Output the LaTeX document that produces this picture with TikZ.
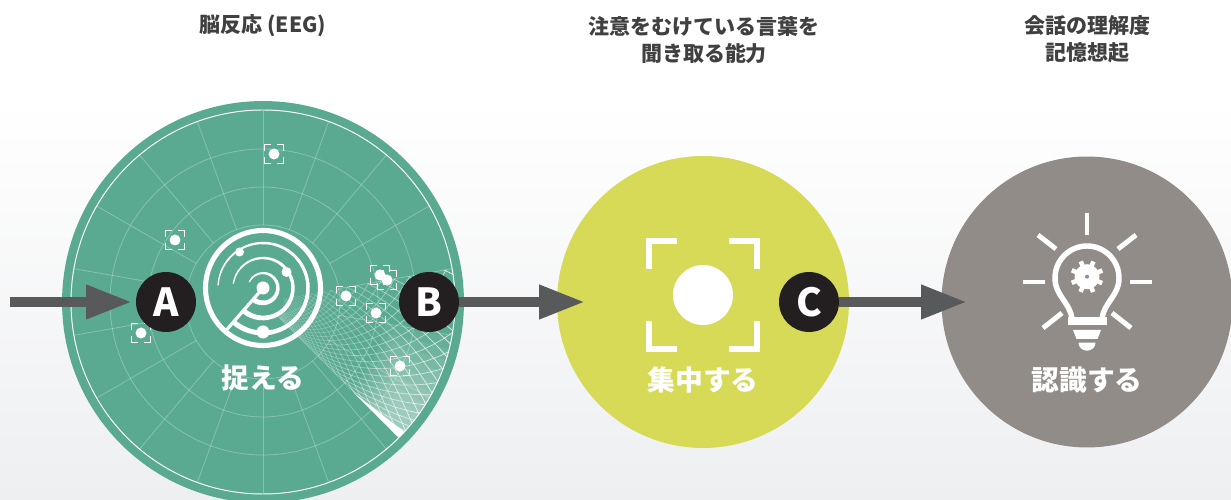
\documentclass[tikz,border=0pt]{standalone}
\usepackage{fontspec}
\setmainfont{Noto Sans CJK JP}
\usetikzlibrary{arrows.meta}
\definecolor{radargreen}{HTML}{5AAA91}
\definecolor{focusyellow}{HTML}{D6DA56}
\definecolor{bulbgray}{HTML}{918C88}
\definecolor{badgeblack}{HTML}{231F20}
\definecolor{arrowgray}{HTML}{58595B}
\definecolor{paperlow}{HTML}{EEEFF1}
\tikzset{
    disc/.style={circle,inner sep=0pt,outer sep=0pt},
    badge/.style={disc,fill=badgeblack,text=white,minimum size=1.2cm,font=\bfseries\fontsize{22}{22}\selectfont},
    heading/.style={align=center,font=\bfseries\fontsize{11.95}{15.4}\selectfont,text=black!75},
    disclabel/.style={text=white,font=\bfseries\fontsize{15.8}{18}\selectfont},
    flow/.style={draw=arrowgray,line width=.2cm,-{Triangle[length=.92cm,width=.64cm]}},
    gridline/.style={draw=white,opacity=.28,line width=.45pt},
    iconline/.style={draw=white,line width=2.9pt},
    rayline/.style={draw=white,line width=2.8pt},
}
\newcommand{\targetmark}[2]{%
    \fill[white] (#1,#2) circle (5.5);
    \foreach \sx/\sy in {1/1,-1/1,-1/-1,1/-1}
        \draw[white,line width=.7pt] ({#1+\sx*3},{#2+\sy*9.5})--({#1+\sx*9.5},{#2+\sy*9.5})--({#1+\sx*9.5},{#2+\sy*3});
}
\newcommand{\taperarc}[2]{%
    \foreach \k in {0,...,17}{
        \pgfmathsetmacro{\wd}{2.9-.125*\k}
        \draw[white,line width=\wd pt] ({229+(#2-229)*\k/18}:#1) arc ({229+(#2-229)*\k/18}:{229+(#2-229)*(\k+1.1)/18}:#1);
    }
}
\begin{document}
\begin{tikzpicture}[x=.02cm,y=.02cm,>=latex]
    \clip (0,0) rectangle (1231,500);
    \shade[top color=white,bottom color=paperlow] (0,0) rectangle (1231,400);
    \fill[white] (0,400) rectangle (1231,500);
    \node[heading] (eegText) at (263,474) {脳反応 (EEG)};
    \node[heading] (listenText) at (704,460) {注意をむけている言葉を\\聞き取る能力};
    \node[heading] (recallText) at (1087,461) {会話の理解度\\記憶想起};
    \node[disc,fill=radargreen,minimum size=8.04cm] (radarDisc) at (263,198) {};
    \node[disc,fill=focusyellow,minimum size=5.84cm] (focusDisc) at (703,198) {};
    \node[disc,fill=bulbgray,minimum size=5.82cm] (bulbDisc) at (1087,198) {};
\begin{scope}[shift={(263,198)}]
    \foreach \r in {77,115,153}
        \draw[gridline] (0,0) circle (\r);
    \foreach \a in {10,30,...,350}
        \draw[gridline] (\a:77)--(\a:192);
    \begin{scope}
        \clip (0,0)--(-45:192) arc (-45:10:192)--cycle;
        \foreach \k in {1,...,8}{
            \pgfmathsetmacro{\aend}{-45+38-3.6*\k}
            \pgfmathsetmacro{\rin}{118+6*\k}
            \fill[white,opacity=.065] (-45:\rin)--(-45:192) arc (-45:\aend:192)--(\aend:\rin) arc (\aend:-45:\rin)--cycle;
        }
        \foreach \c in {-1.6,-1.49,...,3.0}
            \foreach \s in {1,-1}
                \foreach \t in {0,.04,...,.97}{
                    \pgfmathsetmacro{\ra}{192*exp(-(\c+\s*1.6*\t))*(1+.12*sin(200*\t))}
                    \pgfmathsetmacro{\rb}{192*exp(-(\c+\s*1.6*(\t+.04)))*(1+.12*sin(200*(\t+.04)))}
                    \pgfmathparse{(\ra<215 && \ra>22) ? 1 : 0}
                    \ifnum\pgfmathresult=1
                        \pgfmathsetmacro{\ta}{-45+55*pow(\t,1.5)}
                        \pgfmathsetmacro{\tb}{-45+55*pow(\t+.04,1.5)}
                        \pgfmathsetmacro{\op}{min(.8,.16+.6*(\ra/192)^2)}
                        \draw[white,opacity=\op,line width=.42pt] (\ta:\ra)--(\tb:\rb);
                    \fi
                }
        \fill[white] (-45:128)--(-45:192)--(-42.6:192)--cycle;
    \end{scope}
    \draw[white,line width=.55pt] (0,0) circle (192);
\end{scope}
    \targetmark{274}{346}
    \targetmark{175}{260}
    \targetmark{141}{167}
    \targetmark{346}{204}
    \targetmark{380}{225}
    \targetmark{387}{220}
    \targetmark{376}{187}
    \targetmark{400}{134}
\begin{scope}[shift={(263,212)}]
    \draw[iconline] (0,0) circle (57.5);
    \draw[white,line width=1.8pt] (0,0)--(229:56);
    \taperarc{15}{515}
    \taperarc{30}{530}
    \taperarc{45}{535}
    \fill[white] (0,0) circle (6.5);
    \fill[white] (-23.5,36) circle (4.5);
    \fill[white] (23.5,16) circle (5);
    \fill[white] (0,-44) circle (6.5);
\end{scope}
    \node[disclabel] (catchText) at (263,122) {捉える};
\begin{scope}[shift={(703,205)}]
    \fill[white] (0,0) circle (30);
    \foreach \sx/\sy in {1/1,-1/1,-1/-1,1/-1}
        \draw[white,line width=3.2pt] ({\sx*26},{\sy*54})--({\sx*54},{\sy*54})--({\sx*54},{\sy*26});
\end{scope}
    \node[disclabel] (focusText) at (703,120) {集中する};
\begin{scope}[shift={(1087,222)}]
    \foreach \xa/\ya/\xb/\yb in {0/65/0/43,-64/-4/-42/-4,43/-4/65/-4,-49/43/-31/29,49/43/31/29,-25/-35/-44/-50,25/-35/44/-50}
        \draw[rayline] (\xa,\ya)--(\xb,\yb);
    \draw[white,line width=3.1pt,line join=round] (-15,-41) .. controls (-17,-24) and (-32,-18) .. (-32,0) arc (180:0:32) .. controls (32,-18) and (17,-24) .. (15,-41);
    \fill[white] (-19,-39) rectangle (20,-47);
    \fill[white] (-14,-52)--(14,-52)--(10.5,-61)--(-10.5,-61)--cycle;
    \fill[white] (-8.5,-64.7) arc (180:360:8.5 and 8)--cycle;
    \begin{scope}[shift={(0,1.3)}]
        \fill[white] (0,0) circle (12.5);
        \foreach \a in {0,45,...,315}
            \draw[white,line width=2.6pt] (\a+22:10)--(\a+22:16.5);
        \fill[bulbgray] (0,0) circle (2);
    \end{scope}
\end{scope}
    \node[disclabel] (knowText) at (1087,120) {認識する};
    \node[badge] (markA) at (166,198) {A};
    \node[badge] (markB) at (429,198) {B};
    \node[badge] (markC) at (809,198) {C};
    \coordinate (inStart) at (10,198);
    \coordinate (focusTip) at (585,198);
    \coordinate (bulbTip) at (967,198);
    \draw[flow,shorten >=.08cm] (inStart)--(markA);
    \draw[flow] (markB)--(focusTip);
    \draw[flow] (markC)--(bulbTip);
\end{tikzpicture}
\end{document}
